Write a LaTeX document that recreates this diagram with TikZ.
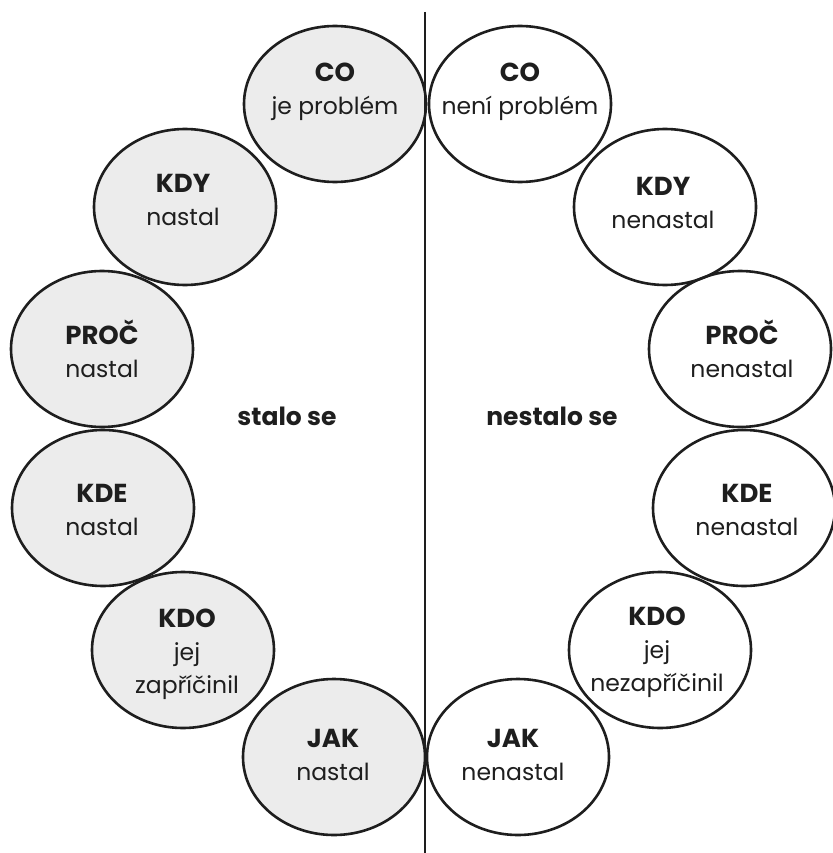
\documentclass[tikz,border=0pt]{standalone}
\usepackage{fontspec}
\setmainfont{Poppins}
\usetikzlibrary{shapes.geometric}
\definecolor{leftfill}{HTML}{ECECEC}
\definecolor{ink}{HTML}{1E1E1E}
\newcommand\hd[1]{{\fontsize{26}{33}\selectfont\bfseries #1}}
\begin{document}
\begin{tikzpicture}[x=1pt,y=-1pt,
  bubble/.style={shape=ellipse,draw=ink,line width=2.6pt,minimum width=182pt,minimum height=156pt,inner sep=0pt},
  lbl/.style={align=center,text=ink,font=\fontsize{23.5}{33}\selectfont,inner sep=0pt},
  side/.style={text=ink,font=\bfseries\fontsize{25}{30}\selectfont,inner sep=0pt}]
\useasboundingbox (0,0) rectangle (832,853);
\fill[white] (0,0) rectangle (832,853);
% centres
\coordinate (cL1) at (335,104);
\coordinate (cL2) at (185,207);
\coordinate (cL3) at (102,349);
\coordinate (cL4) at (103,508);
\coordinate (cL5) at (183,650);
\coordinate (cL6) at (334,757);
\coordinate (cR1) at (520,104);
\coordinate (cR2) at (665,207);
\coordinate (cR3) at (740,349);
\coordinate (cR4) at (744,508);
\coordinate (cR5) at (660,650);
\coordinate (cR6) at (518,757);
% fills
\foreach \c in {cL1,cL2,cL3,cL4,cL5,cL6}
  \fill[leftfill] (\c) ellipse [x radius=91pt,y radius=78pt];
\foreach \c in {cR1,cR2,cR3,cR4,cR5,cR6}
  \fill[white] (\c) ellipse [x radius=91pt,y radius=78pt];
% outlines
\node[bubble] (L1) at (cL1) {};
\node[bubble] (L2) at (cL2) {};
\node[bubble] (L3) at (cL3) {};
\node[bubble] (L4) at (cL4) {};
\node[bubble] (L5) at (cL5) {};
\node[bubble] (L6) at (cL6) {};
\node[bubble] (R1) at (cR1) {};
\node[bubble] (R2) at (cR2) {};
\node[bubble] (R3) at (cR3) {};
\node[bubble] (R4) at (cR4) {};
\node[bubble] (R5) at (cR5) {};
\node[bubble] (R6) at (cR6) {};
% divider
\coordinate (top) at (425,12);
\coordinate (bot) at (425,853);
\draw[ink,line width=2.2pt] (top) -- (bot);
% labels
\node[lbl] (tL1) at (335,92) {\hd{CO}\\je problém};
\node[lbl] (tL2) at (183,200) {\hd{KDY}\\nastal};
\node[lbl] (tL3) at (102,349) {\hd{PROČ}\\nastal};
\node[lbl] (tL4) at (102,510) {\hd{KDE}\\nastal};
\node[lbl] (tL5) at (187,654) {\hd{KDO}\\jej\\zapříčinil};
\node[lbl] (tL6) at (333,755) {\hd{JAK}\\nastal};
\node[lbl] (tR1) at (520,92) {\hd{CO}\\není problém};
\node[lbl] (tR2) at (663,203) {\hd{KDY}\\nenastal};
\node[lbl] (tR3) at (742,349) {\hd{PROČ}\\nenastal};
\node[lbl] (tR4) at (747,510) {\hd{KDE}\\nenastal};
\node[lbl] (tR5) at (657,652) {\hd{KDO}\\jej\\nezapříčinil};
\node[lbl] (tR6) at (513,755) {\hd{JAK}\\nenastal};
\node[side] (stalo) at (287,416) {stalo se};
\node[side] (nestalo) at (552,416) {nestalo se};
\end{tikzpicture}
\end{document}
